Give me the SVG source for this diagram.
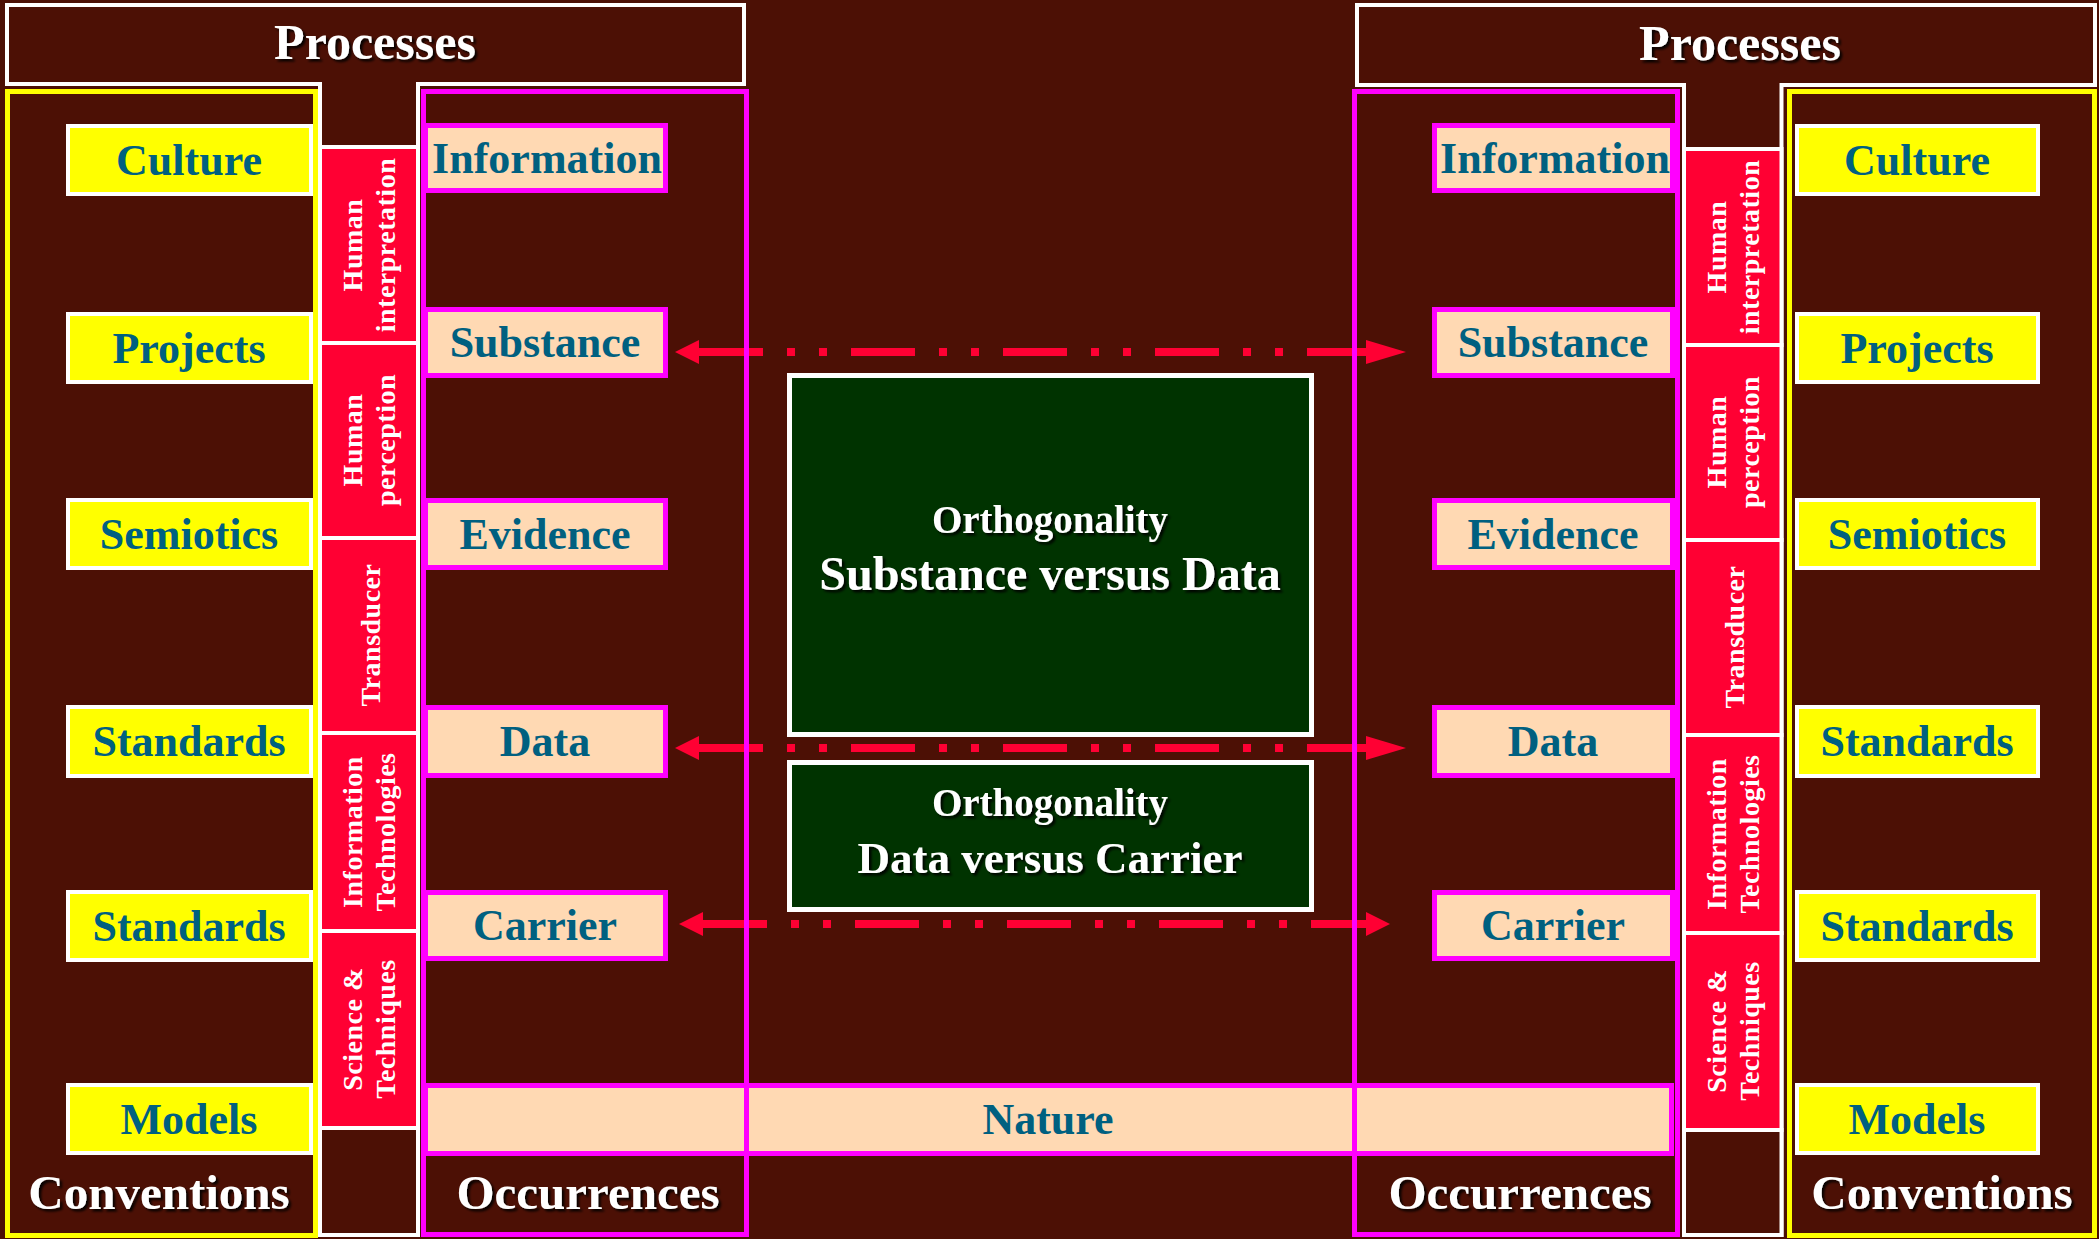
<svg xmlns="http://www.w3.org/2000/svg" width="2099" height="1239" viewBox="0 0 2099 1239">
<defs>
<style>
.bg{fill:#4C1005}
.frame{fill:#4C1005;stroke:#FFFFFF;stroke-width:4}
.red{fill:#FF0033;stroke:#FFFFFF;stroke-width:4}
.dk{fill:#4C1005;stroke:#FFFFFF;stroke-width:4}
.conv{fill:none;stroke:#FFFF00;stroke-width:5}
.occ{fill:none;stroke:#FF00FF;stroke-width:5}
.yn{fill:#FFFF00;stroke:#FFFFFF;stroke-width:4}
.pn{fill:#FFD9B3;stroke:#FF00FF;stroke-width:5}
.gr{fill:#003300;stroke:#FFFFFF;stroke-width:5}
.nt{font-family:"Liberation Serif","Times New Roman",serif;font-weight:bold;font-size:44px;fill:#006080;text-anchor:middle}
.wt{font-family:"Liberation Serif","Times New Roman",serif;font-weight:bold;fill:#FFFFFF;text-anchor:middle;filter:url(#sh)}
.big{font-size:50px}
.lab{font-size:49px}
.ort{font-size:39px}
.rt{font-family:"Liberation Serif","Times New Roman",serif;font-weight:bold;font-size:28px;letter-spacing:0.5px;fill:#FFFFFF;text-anchor:middle}
.arr{fill:none;stroke:#FF0033;stroke-width:8;stroke-dasharray:64 24 8 24 8 24}
</style>
<filter id="sh" x="-10%" y="-30%" width="125%" height="170%">
<feDropShadow dx="2.5" dy="2.5" stdDeviation="1.2" flood-color="#000000" flood-opacity="0.9"/>
</filter>
<marker id="arrS" markerUnits="userSpaceOnUse" markerWidth="24" markerHeight="24" refX="0" refY="12" orient="auto-start-reverse">
<path d="M0,0 L24,12 L0,24 Z" fill="#FF0033"/>
</marker>
<marker id="arrL" markerUnits="userSpaceOnUse" markerWidth="40" markerHeight="24" refX="0" refY="12" orient="auto-start-reverse">
<path d="M0,0 L40,12 L0,24 Z" fill="#FF0033"/>
</marker>
</defs>

<rect class="bg" x="0" y="0" width="2099" height="1239"/>

<!-- Left Processes frame with column -->
<g id="processes-left">
<path class="frame" d="M7 5 H744 V84 H418 V1235 H320 V84 H7 Z"/>
<text class="wt big" x="375" y="59">Processes</text>
</g>
<g id="proc-left-cells">
<rect class="red" x="320" y="147" width="98" height="196"/>
<rect class="red" x="320" y="343" width="98" height="195"/>
<rect class="red" x="320" y="538" width="98" height="195"/>
<rect class="red" x="320" y="733" width="98" height="198"/>
<rect class="red" x="320" y="931" width="98" height="197"/>
<rect class="dk" x="320" y="1128" width="98" height="107"/>
</g>
<g id="l-human-interpretation">
<text class="rt" x="362" y="245" transform="rotate(-90 362 245)">Human</text>
<text class="rt" x="395" y="245" transform="rotate(-90 395 245)">interpretation</text>
</g>
<g id="l-human-perception">
<text class="rt" x="362" y="440" transform="rotate(-90 362 440)">Human</text>
<text class="rt" x="395" y="440" transform="rotate(-90 395 440)">perception</text>
</g>
<g id="l-transducer">
<text class="rt" x="380" y="635" transform="rotate(-90 380 635)">Transducer</text>
</g>
<g id="l-information-technologies">
<text class="rt" x="362" y="832" transform="rotate(-90 362 832)">Information</text>
<text class="rt" x="395" y="832" transform="rotate(-90 395 832)">Technologies</text>
</g>
<g id="l-science-techniques">
<text class="rt" x="362" y="1029" transform="rotate(-90 362 1029)">Science &amp;</text>
<text class="rt" x="395" y="1029" transform="rotate(-90 395 1029)">Techniques</text>
</g>

<!-- Right Processes frame with column -->
<g id="processes-right">
<path class="frame" d="M1357 5 H2095 V85 H1781.5 V1235 H1684 V85 H1357 Z"/>
<text class="wt big" x="1740" y="60">Processes</text>
</g>
<g id="proc-right-cells">
<rect class="red" x="1684" y="149" width="97.5" height="196"/>
<rect class="red" x="1684" y="345" width="97.5" height="195"/>
<rect class="red" x="1684" y="540" width="97.5" height="195"/>
<rect class="red" x="1684" y="735" width="97.5" height="198"/>
<rect class="red" x="1684" y="933" width="97.5" height="197"/>
<rect class="dk" x="1684" y="1130" width="97.5" height="105"/>
</g>
<g id="r-human-interpretation">
<text class="rt" x="1726" y="247" transform="rotate(-90 1726 247)">Human</text>
<text class="rt" x="1759" y="247" transform="rotate(-90 1759 247)">interpretation</text>
</g>
<g id="r-human-perception">
<text class="rt" x="1726" y="442" transform="rotate(-90 1726 442)">Human</text>
<text class="rt" x="1759" y="442" transform="rotate(-90 1759 442)">perception</text>
</g>
<g id="r-transducer">
<text class="rt" x="1744" y="637" transform="rotate(-90 1744 637)">Transducer</text>
</g>
<g id="r-information-technologies">
<text class="rt" x="1726" y="834" transform="rotate(-90 1726 834)">Information</text>
<text class="rt" x="1759" y="834" transform="rotate(-90 1759 834)">Technologies</text>
</g>
<g id="r-science-techniques">
<text class="rt" x="1726" y="1031" transform="rotate(-90 1726 1031)">Science &amp;</text>
<text class="rt" x="1759" y="1031" transform="rotate(-90 1759 1031)">Techniques</text>
</g>

<!-- Conventions containers -->
<g id="conventions-left">
<rect class="conv" x="7.5" y="91.5" width="308" height="1144"/>
<text class="wt lab" x="159" y="1209">Conventions</text>
</g>
<g id="conventions-right">
<rect class="conv" x="1789.5" y="91.5" width="305" height="1144"/>
<text class="wt lab" x="1942" y="1209">Conventions</text>
</g>

<!-- Left convention nodes -->
<g id="l-culture"><rect class="yn" x="68" y="126" width="243" height="68"/><text class="nt" x="189" y="175">Culture</text></g>
<g id="l-projects"><rect class="yn" x="68" y="314" width="243" height="68"/><text class="nt" x="189" y="363">Projects</text></g>
<g id="l-semiotics"><rect class="yn" x="68" y="500" width="243" height="68"/><text class="nt" x="189" y="549">Semiotics</text></g>
<g id="l-standards-1"><rect class="yn" x="68" y="707" width="243" height="69"/><text class="nt" x="189" y="756">Standards</text></g>
<g id="l-standards-2"><rect class="yn" x="68" y="892" width="243" height="68"/><text class="nt" x="189" y="941">Standards</text></g>
<g id="l-models"><rect class="yn" x="68" y="1085" width="243" height="68"/><text class="nt" x="189" y="1134">Models</text></g>

<!-- Right convention nodes -->
<g id="r-culture"><rect class="yn" x="1797" y="126" width="241" height="68"/><text class="nt" x="1917" y="175">Culture</text></g>
<g id="r-projects"><rect class="yn" x="1797" y="314" width="241" height="68"/><text class="nt" x="1917" y="363">Projects</text></g>
<g id="r-semiotics"><rect class="yn" x="1797" y="500" width="241" height="68"/><text class="nt" x="1917" y="549">Semiotics</text></g>
<g id="r-standards-1"><rect class="yn" x="1797" y="707" width="241" height="69"/><text class="nt" x="1917" y="756">Standards</text></g>
<g id="r-standards-2"><rect class="yn" x="1797" y="892" width="241" height="68"/><text class="nt" x="1917" y="941">Standards</text></g>
<g id="r-models"><rect class="yn" x="1797" y="1085" width="241" height="68"/><text class="nt" x="1917" y="1134">Models</text></g>

<!-- Left occurrence nodes -->
<g id="l-information"><rect class="pn" x="425.5" y="125.5" width="240" height="65"/><text class="nt" x="547" y="173">Information</text></g>
<g id="l-substance"><rect class="pn" x="425.5" y="309.5" width="240" height="66"/><text class="nt" x="545" y="357">Substance</text></g>
<g id="l-evidence"><rect class="pn" x="425.5" y="500.5" width="240" height="67"/><text class="nt" x="545" y="549">Evidence</text></g>
<g id="l-data"><rect class="pn" x="425.5" y="707.5" width="240" height="68"/><text class="nt" x="545" y="756">Data</text></g>
<g id="l-carrier"><rect class="pn" x="425.5" y="892.5" width="240" height="66"/><text class="nt" x="545" y="940">Carrier</text></g>

<!-- Right occurrence nodes -->
<g id="r-information"><rect class="pn" x="1434.5" y="125.5" width="238" height="65"/><text class="nt" x="1555" y="173">Information</text></g>
<g id="r-substance"><rect class="pn" x="1434.5" y="309.5" width="238" height="66"/><text class="nt" x="1553" y="357">Substance</text></g>
<g id="r-evidence"><rect class="pn" x="1434.5" y="500.5" width="238" height="67"/><text class="nt" x="1553" y="549">Evidence</text></g>
<g id="r-data"><rect class="pn" x="1434.5" y="707.5" width="238" height="68"/><text class="nt" x="1553" y="756">Data</text></g>
<g id="r-carrier"><rect class="pn" x="1434.5" y="892.5" width="238" height="66"/><text class="nt" x="1553" y="940">Carrier</text></g>

<!-- Nature -->
<g id="nature"><rect class="pn" x="425.5" y="1085.5" width="1246" height="68"/><text class="nt" x="1048" y="1134">Nature</text></g>

<!-- Orthogonality boxes -->
<g id="ortho-substance-data">
<rect class="gr" x="789.5" y="375.5" width="522" height="359"/>
<text class="wt ort" x="1050" y="533">Orthogonality</text>
<text class="wt" x="1050" y="590" style="font-size:48px">Substance versus Data</text>
</g>
<g id="ortho-data-carrier">
<rect class="gr" x="789.5" y="762.5" width="522" height="147"/>
<text class="wt ort" x="1050" y="816">Orthogonality</text>
<text class="wt" x="1050" y="873" style="font-size:45px">Data versus Carrier</text>
</g>

<!-- Connectors -->
<g id="connectors">
<path class="arr" d="M699 352 H1366" marker-start="url(#arrS)" marker-end="url(#arrL)"/>
<path class="arr" d="M699 748 H1366" marker-start="url(#arrS)" marker-end="url(#arrL)"/>
<path class="arr" d="M703 924 H1366" marker-start="url(#arrS)" marker-end="url(#arrS)"/>
</g>

<!-- Occurrences containers (outlines drawn on top) -->
<g id="occurrences-left">
<rect class="occ" x="423.5" y="91.5" width="323" height="1143"/>
<text class="wt lab" x="588" y="1209">Occurrences</text>
</g>
<g id="occurrences-right">
<rect class="occ" x="1354.5" y="91.5" width="323" height="1143"/>
<text class="wt lab" x="1520" y="1209">Occurrences</text>
</g>
</svg>
